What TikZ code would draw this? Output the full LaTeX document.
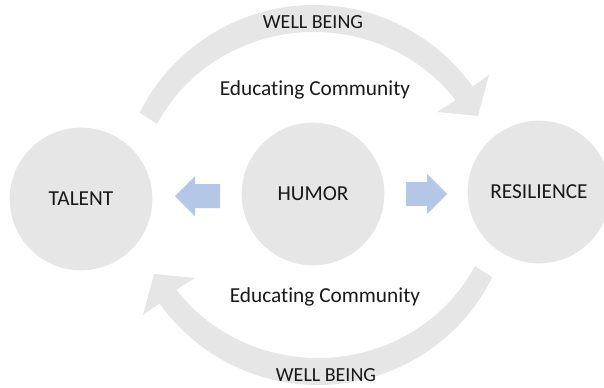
\documentclass[tikz,border=0pt]{standalone}
\usepackage{fontspec}
\setmainfont{Carlito}[Ligatures=NoCommon]
\usetikzlibrary{positioning}
\definecolor{circlegray}{HTML}{E7E6E6}
\definecolor{bandgray}{HTML}{E7E6E6}
\definecolor{arrowblue}{HTML}{B4C7E7}

\begin{document}
\begin{tikzpicture}[
  x=0.75pt, y=0.75pt,
  every node/.style={font=\fontsize{16}{19}\selectfont, text=black!90},
  bubble/.style={circle, fill=circlegray, minimum size=107pt, inner sep=0pt},
  blockarrow/.style={fill=arrowblue},
  bandtext/.style={font=\fontsize{15}{18}\selectfont},
  bend arrow/.pic={
    \fill[bandgray] (153.4:195) arc[start angle=153.4, end angle=35.6, radius=195]
      -- (175,125) -- (164,84) -- (123,88)
      -- (36.4:176 and 168) arc[start angle=36.4, end angle=153.1, x radius=176, y radius=168]
      -- cycle;
  },
]
  \useasboundingbox (0,0) rectangle (604,387);
  \clip (0,0) rectangle (604,387);

  % curved bands
  \pic at (314,187) {bend arrow};
  \pic[rotate=180] at (318,197) {bend arrow};

  % circles
  \node[bubble] (talent) at (81,188) {TALENT};
  \node[bubble] (humor) at (313,193) {HUMOR};
  \node[bubble] (resilience) at (539,195) {RESILIENCE};

  % block arrows
  \fill[blockarrow] (220,203) -- (195,203) -- (195,211) -- (175,191)
    -- (195,171) -- (195,179) -- (220,179) -- cycle;
  \fill[blockarrow] (406,181) -- (427,181) -- (427,173) -- (447,193)
    -- (427,213) -- (427,205) -- (406,205) -- cycle;

  % labels
  \node[bandtext] (welltop) at (313,365) {WELL BEING};
  \node (edutop) at (315,297) {Educating Community};
  \node (edubot) at (325,90) {Educating Community};
  \node[bandtext] (wellbot) at (326,12) {WELL BEING};
\end{tikzpicture}
\end{document}
